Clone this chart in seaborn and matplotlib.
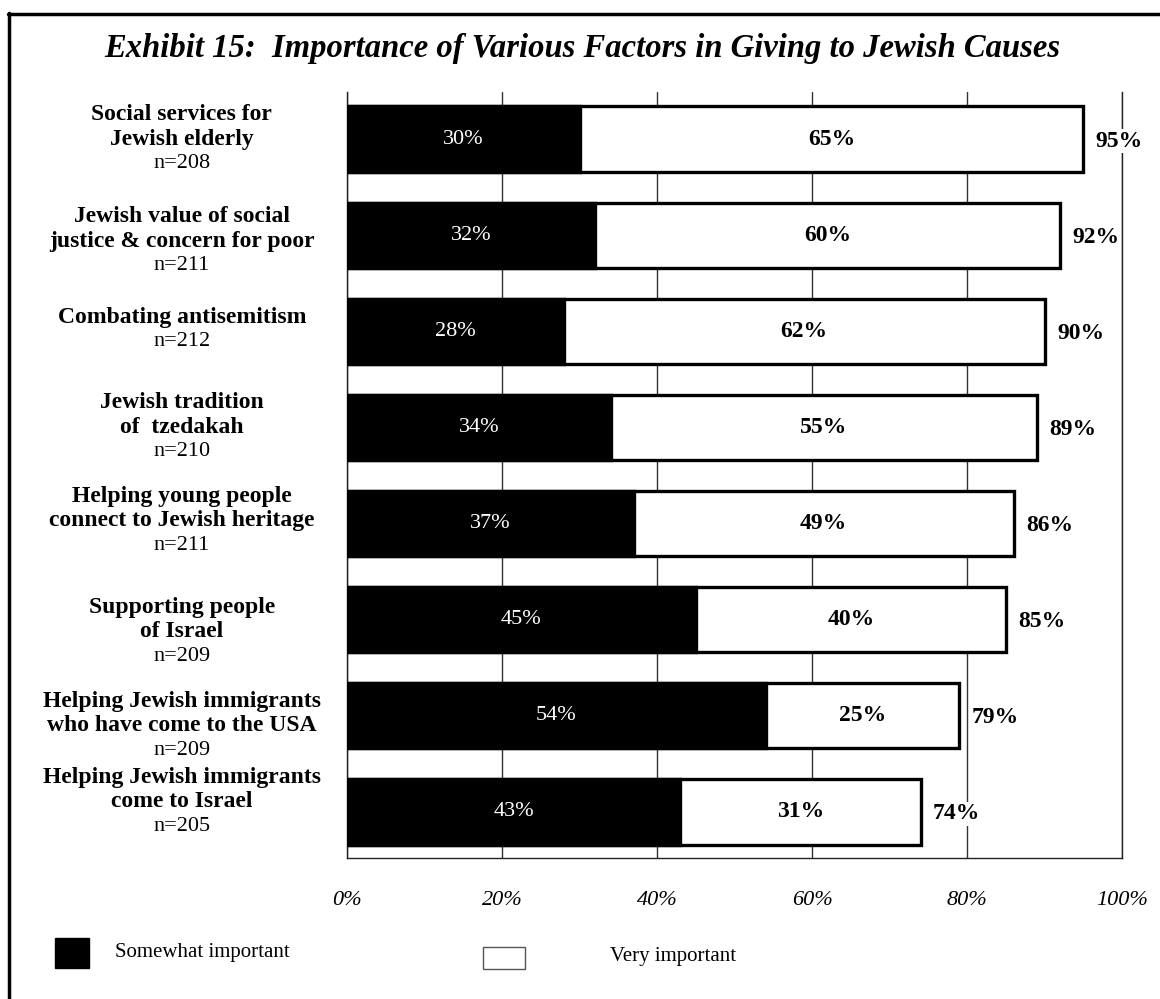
import matplotlib
matplotlib.use("Agg")
import matplotlib.pyplot as plt
import seaborn as sns
import pandas as pd
from matplotlib.patches import Rectangle
from matplotlib.lines import Line2D
from matplotlib import transforms

# ---- data ----
factors = [
    "Social services for\nJewish elderly",
    "Jewish value of social\njustice & concern for poor",
    "Combating antisemitism",
    "Jewish tradition\nof  tzedakah",
    "Helping young people\nconnect to Jewish heritage",
    "Supporting people\nof Israel",
    "Helping Jewish immigrants\nwho have come to the USA",
    "Helping Jewish immigrants\ncome to Israel",
]
sample_sizes = [208, 211, 212, 210, 211, 209, 209, 205]
somewhat_important = [30, 32, 28, 34, 37, 45, 54, 43]
very_important = [65, 60, 62, 55, 49, 40, 25, 31]
total_important = [95, 92, 90, 89, 86, 85, 79, 74]
x_ticks = [0, 20, 40, 60, 80, 100]
x_tick_labels = ["0%", "20%", "40%", "60%", "80%", "100%"]
title = "Exhibit 15:  Importance of Various Factors in Giving to Jewish Causes"
legend_labels = ["Somewhat important", "Very important"]

# small vertical nudges for the category label blocks (in pixels)
label_nudge_px = [0, 6, -2, 0, -3, 12, 10, -10]

df = pd.DataFrame({
    "factor": factors,
    "somewhat": somewhat_important,
    "very": very_important,
    "total": total_important,
})

sns.set_theme(style="white")
plt.rcParams["font.family"] = ["Liberation Serif", "DejaVu Serif"]
plt.rcParams["text.color"] = "black"
plt.rcParams["xtick.color"] = "black"
plt.rcParams["axes.labelcolor"] = "black"

W, H = 1160, 999
fig = plt.figure(figsize=(W / 100, H / 100), dpi=100)
ax = fig.add_axes([347 / W, (H - 858) / H, 775 / W, 766 / H])

bar_w = 0.68
# full bar (very important shows as the white remainder)
sns.barplot(data=df, x="total", y="factor", order=factors, color="white",
            edgecolor="black", linewidth=2.4, width=bar_w, saturation=1,
            ax=ax, zorder=2)
# somewhat important overlay
sns.barplot(data=df, x="somewhat", y="factor", order=factors, color="black",
            edgecolor="black", linewidth=2.4, width=bar_w, saturation=1,
            ax=ax, zorder=3)

ax.set_xlim(0, 100)
ax.set_ylim(7.48, -0.49)
ax.set_xlabel("")
ax.set_ylabel("")
ax.set_yticks([])
ax.set_xticks(x_ticks)
ax.set_xticklabels(x_tick_labels, fontstyle="italic", fontsize=16)
ax.tick_params(axis="x", length=0, pad=24, colors="black")
ax.grid(axis="x", color="#333333", linewidth=1.0, zorder=0)
ax.grid(axis="y", visible=False)
ax.set_axisbelow(True)
for side in ["left", "right", "bottom"]:
    ax.spines[side].set_visible(True)
    ax.spines[side].set_color("#222222")
    ax.spines[side].set_linewidth(1.0)
ax.spines["top"].set_visible(False)

# value labels
for i, (s, v, t) in enumerate(zip(somewhat_important, very_important, total_important)):
    ax.text(s / 2, i, f"{s}%", color="white", fontsize=16, ha="center",
            va="center", zorder=5)
    ax.text(s + v / 2, i, f"{v}%", color="black", fontsize=17,
            fontweight="bold", ha="center", va="center", zorder=5)
    ax.text(t + 1.6, i + 0.02, f"{t}%", color="black", fontsize=17,
            fontweight="bold", ha="left", va="center", zorder=5,
            bbox=dict(facecolor="white", edgecolor="none", pad=1))

# category labels: bold description with sample size underneath
px_per_unit = 766 / (7.48 + 0.49)
line_step = 24.5 / px_per_unit
trans = transforms.blended_transform_factory(ax.transAxes, ax.transData)
for i, (name, n) in enumerate(zip(factors, sample_sizes)):
    lines = name.split("\n")
    nlines = len(lines) + 1
    center = i + label_nudge_px[i] / px_per_unit
    y0 = center - (nlines - 1) / 2 * line_step
    for k, line in enumerate(lines):
        ax.text(-0.213, y0 + k * line_step, line, transform=trans,
                ha="center", va="center", fontsize=17, fontweight="bold",
                clip_on=False)
    ax.text(-0.213, y0 + len(lines) * line_step, f"n={n}", transform=trans,
            ha="center", va="center", fontsize=16, clip_on=False)

# title
fig.text(582 / W, 1 - 48 / H, title, ha="center", va="center", fontsize=23.5,
         fontweight="bold", fontstyle="italic")

# frame lines
fig.add_artist(Line2D([9 / W, 9 / W], [0, 1 - 13 / H], color="black",
                      linewidth=2.5, transform=fig.transFigure))
fig.add_artist(Line2D([8 / W, 1], [1 - 14 / H, 1 - 14 / H], color="black",
                      linewidth=2.5, transform=fig.transFigure))

# legend
fig.add_artist(Rectangle((55 / W, (H - 968) / H), 34 / W, 30 / H,
                         facecolor="black", edgecolor="black",
                         transform=fig.transFigure))
fig.text(115 / W, 1 - 952 / H, legend_labels[0], ha="left", va="center",
         fontsize=15)
fig.add_artist(Rectangle((483 / W, (H - 969) / H), 42 / W, 22 / H,
                         facecolor="white", edgecolor="#555555", linewidth=1,
                         transform=fig.transFigure))
fig.text(610 / W, 1 - 957 / H, legend_labels[1], ha="left", va="center",
         fontsize=15)

fig.savefig("out.png", dpi=100, facecolor="white")
